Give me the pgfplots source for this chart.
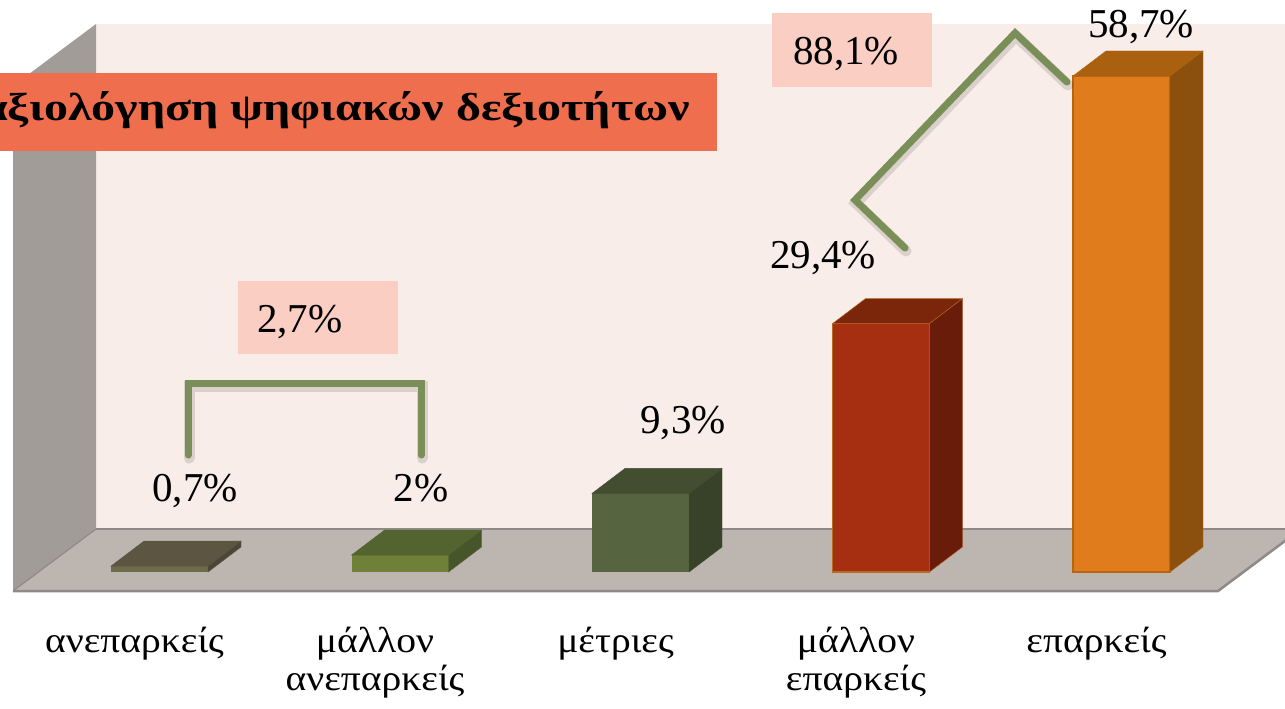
\documentclass[border=0pt]{standalone}
\usepackage{fontspec}
\setmainfont{Liberation Serif}
\newfontfamily\catfont[FakeStretch=1.1]{Liberation Serif}
\newfontfamily\titlefont[FakeStretch=1.23]{Liberation Serif}
\usepackage{pgfplots}
\pgfplotsset{compat=1.18}
\definecolor{wallback}{RGB}{249,237,233}
\definecolor{wallleft}{RGB}{162,156,153}
\definecolor{floorc}{RGB}{189,181,176}
\definecolor{edgec}{RGB}{143,138,136}
\definecolor{titlec}{RGB}{239,110,78}
\definecolor{pinkbox}{RGB}{250,206,195}
\definecolor{brgreen}{RGB}{122,143,88}
\definecolor{bAf}{RGB}{111,106,73}\definecolor{bAt}{RGB}{91,85,65}\definecolor{bAs}{RGB}{74,69,53}
\definecolor{bBf}{RGB}{111,129,57}\definecolor{bBt}{RGB}{83,100,48}\definecolor{bBs}{RGB}{70,85,42}
\definecolor{bCf}{RGB}{86,101,63}\definecolor{bCt}{RGB}{67,78,49}\definecolor{bCs}{RGB}{55,66,41}
\definecolor{bDf}{RGB}{165,47,16}\definecolor{bDt}{RGB}{123,37,11}\definecolor{bDs}{RGB}{106,28,10}\definecolor{bDe}{RGB}{184,106,32}
\definecolor{bEf}{RGB}{224,124,27}\definecolor{bEt}{RGB}{169,96,15}\definecolor{bEs}{RGB}{139,80,13}\definecolor{bEe}{RGB}{184,101,15}
% pixel -> axis coordinates
\newcommand{\pp}[2]{(axis cs:{((#1)-159.5)/240.5},{(572-(#2))/8.45})}
\def\bhw{0.201663}
\def\bdx{0.137214}
\def\bdy{2.95858}
\newcommand{\st}{\rule{0pt}{30pt}}
% top and side faces of a 3D bar at index #1 with value #2
\newcommand{\barfaces}[5]{%
  \fill[#3,draw=#5] (axis cs:{#1-\bhw},#2) -- (axis cs:{#1+\bhw},#2) -- (axis cs:{#1+\bhw+\bdx},{#2+\bdy}) -- (axis cs:{#1-\bhw+\bdx},{#2+\bdy}) -- cycle;
  \fill[#4,draw=#5] (axis cs:{#1+\bhw},0) -- (axis cs:{#1+\bhw+\bdx},\bdy) -- (axis cs:{#1+\bhw+\bdx},{#2+\bdy}) -- (axis cs:{#1+\bhw},#2) -- cycle;}
\begin{document}
\begin{tikzpicture}
\begin{axis}[name=ax, scale only axis, width=1285pt, height=708pt,
  xmin=-0.663202, xmax=4.679834, ymin=-16.0947, ymax=67.6923,
  axis line style={draw=none}, tick style={draw=none}, major tick length=0pt,
  ytick=\empty, xtick={0,1,2,3,4},
  xticklabels={\st ανεπαρκείς,{\st μάλλον\\ανεπαρκείς},\st μέτριες,{\st μάλλον\\επαρκείς},\st επαρκείς},
  xticklabel style={align=center, font=\catfont\fontsize{36}{38}\selectfont, anchor=north, yshift=86pt, xshift=-25pt, inner sep=0pt},
  clip=true]
% walls and floor
\fill[wallback] \pp{96}{24} rectangle \pp{1300}{529};
\fill[wallleft] \pp{13}{86} -- \pp{96}{24} -- \pp{96}{529} -- \pp{13}{591} -- cycle;
\fill[floorc] \pp{13}{591} -- \pp{96}{529} -- \pp{1310}{529} -- \pp{1301}{529} -- \pp{1218}{591} -- cycle;
\draw[edgec, line width=1.2pt] \pp{96}{529} -- \pp{1300}{529};
\draw[edgec, line width=1.2pt] \pp{13}{591} -- \pp{96}{529};
\draw[edgec, line width=2.5pt] \pp{13}{591} -- \pp{1218}{591} -- \pp{1301}{529};
\draw[white, line width=1pt] \pp{13}{86} -- \pp{13}{591};
% bars (front faces)
\addplot[ybar, bar width=0.40333, bar shift=0pt, fill=bAf, draw=none] coordinates {(0,0.7)};
\addplot[ybar, bar width=0.40333, bar shift=0pt, fill=bBf, draw=none] coordinates {(1,2)};
\addplot[ybar, bar width=0.40333, bar shift=0pt, fill=bCf, draw=none] coordinates {(2,9.3)};
\addplot[ybar, bar width=0.40333, bar shift=0pt, fill=bDf, draw=bDe, line width=1.2pt] coordinates {(3,29.4)};
\addplot[ybar, bar width=0.40333, bar shift=0pt, fill=bEf, draw=bEe, line width=1.2pt] coordinates {(4,58.7)};
\barfaces{0}{0.7}{bAt}{bAs}{bAt}
\barfaces{1}{2}{bBt}{bBs}{bBt}
\barfaces{2}{9.3}{bCt}{bCs}{bCt}
\barfaces{3}{29.4}{bDt}{bDs}{bDe}
\barfaces{4}{58.7}{bEt}{bEs}{bEe}
% value labels
\path \pp{195}{501} node[anchor=base, inner sep=0pt, font=\fontsize{41}{44}\selectfont]{0,7\%};
\path \pp{421}{501} node[anchor=base, inner sep=0pt, font=\fontsize{41}{44}\selectfont]{2\%};
\path \pp{683}{433} node[anchor=base, inner sep=0pt, font=\fontsize{41}{44}\selectfont]{9,3\%};
\path \pp{823}{268} node[anchor=base, inner sep=0pt, font=\fontsize{41}{44}\selectfont]{29,4\%};
\path \pp{1141}{37} node[anchor=base, inner sep=0pt, font=\fontsize{41}{44}\selectfont]{58,7\%};
% brackets
\draw[black, opacity=0.12, line width=11pt, line cap=round] \pp{189}{458} -- \pp{189}{386} -- \pp{422}{386} -- \pp{422}{458};
\draw[brgreen, line width=7pt, line cap=round] \pp{188}{455} -- \pp{188}{383} -- \pp{421}{383} -- \pp{421}{455};
\draw[black, opacity=0.12, line width=11pt, line cap=round] \pp{906}{251} -- \pp{856}{203} -- \pp{1016}{36} -- \pp{1068}{85};
\draw[brgreen, line width=7pt, line cap=round] \pp{905}{248} -- \pp{855}{200} -- \pp{1015}{33} -- \pp{1067}{82};
% sum boxes
\fill[pinkbox] \pp{238}{281} rectangle \pp{398}{354};
\path \pp{257}{332} node[anchor=base west, inner sep=0pt, font=\fontsize{41}{44}\selectfont]{2,7\%};
\fill[pinkbox] \pp{772}{13} rectangle \pp{932}{87};
\path \pp{793}{65} node[anchor=base west, inner sep=0pt, font=\fontsize{41}{44}\selectfont]{88,1\%};
% title
\fill[titlec] \pp{-5}{73} rectangle \pp{717}{151};
\path \pp{690}{120} node[anchor=base east, inner sep=0pt, font=\titlefont\bfseries\fontsize{39}{41}\selectfont]{αξιολόγηση ψηφιακών δεξιοτήτων};
\end{axis}
\pgfresetboundingbox
\path (ax.south west) rectangle (ax.north east);
\end{tikzpicture}
\end{document}
